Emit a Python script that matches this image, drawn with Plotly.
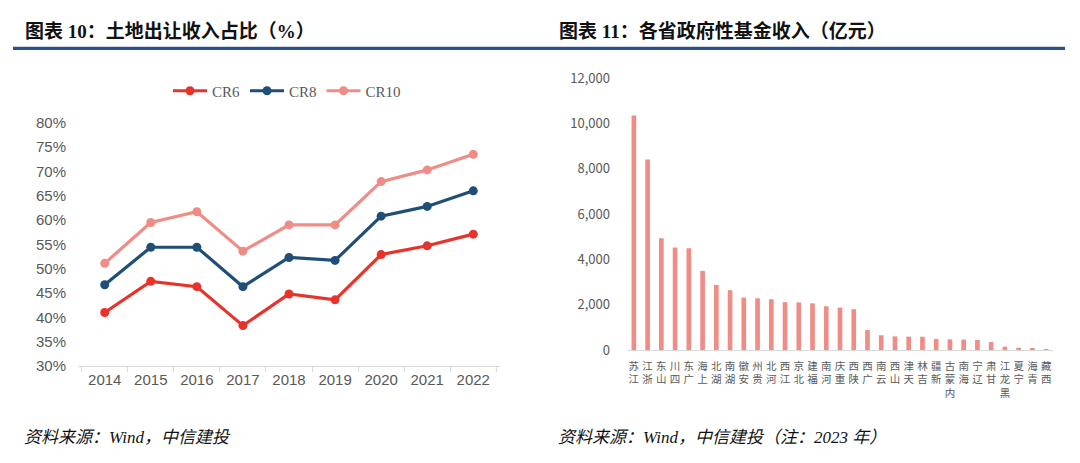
import plotly.graph_objects as go

W, H = 1080, 463

# ---- Left chart data ----
years = ["2014", "2015", "2016", "2017", "2018", "2019", "2020", "2021", "2022"]
cr6 = [41.0, 47.4, 46.3, 38.3, 44.8, 43.6, 52.9, 54.7, 57.1]
cr8 = [46.7, 54.4, 54.4, 46.3, 52.3, 51.7, 60.8, 62.8, 66.0]
cr10 = [51.1, 59.5, 61.7, 53.6, 59.0, 59.0, 67.9, 70.3, 73.5]
left_yticks = [30, 35, 40, 45, 50, 55, 60, 65, 70, 75, 80]

# ---- Right chart data ----
provinces = ["江苏", "浙江", "山东", "四川", "广东", "上海", "湖北", "湖南", "安徽", "贵州",
             "河北", "江西", "北京", "福建", "河南", "重庆", "陕西", "广西", "云南", "山西",
             "天津", "吉林", "新疆", "内蒙古", "海南", "辽宁", "甘肃", "黑龙江", "宁夏", "青海", "西藏"]
revenue = [10350, 8400, 4930, 4520, 4490, 3490, 2870, 2640, 2310, 2280,
           2240, 2110, 2100, 2060, 1930, 1870, 1800, 880, 650, 600,
           590, 585, 490, 470, 460, 440, 350, 150, 100, 70, 40]
right_yticks = [0, 2000, 4000, 6000, 8000, 10000, 12000]

C_RED = "#E8332B"
C_BLUE = "#1F4E79"
C_PINK = "#F08C86"
GRAY = "#595959"
AXIS_GRAY = "#D9D9D9"
TITLE_BLUE = "#2B5189"


def px_x(x):
    return x / W


def px_y(y):
    return 1 - y / H


fig = go.Figure()

for name, vals, col in [("CR6", cr6, C_RED), ("CR8", cr8, C_BLUE), ("CR10", cr10, C_PINK)]:
    fig.add_trace(go.Scatter(
        x=years, y=vals, name=name, mode="lines+markers",
        line=dict(color=col, width=3.2),
        marker=dict(color=col, size=9),
        xaxis="x", yaxis="y",
    ))

# vertical stacked labels (read bottom-to-top as in the reference)
tick_text = ["<br>".join(list(p)[::-1]) for p in provinces]

fig.add_trace(go.Bar(
    x=provinces, y=revenue, marker=dict(color=C_PINK, line=dict(width=0)),
    showlegend=False, xaxis="x2", yaxis="y2",
))

fig.update_layout(
    width=W, height=H,
    margin=dict(l=0, r=0, t=0, b=0, autoexpand=False),
    paper_bgcolor="white", plot_bgcolor="white",
    bargap=0.66,
    font=dict(family="Liberation Sans, Arial, sans-serif", color=GRAY),
    legend=dict(
        orientation="h", x=px_x(168), y=px_y(91), xanchor="left", yanchor="middle",
        font=dict(family="Liberation Serif, serif", size=15, color=GRAY),
        bgcolor="rgba(0,0,0,0)", itemwidth=34, tracegroupgap=0,
    ),
    xaxis=dict(
        domain=[px_x(78), px_x(500)],
        type="category", showline=True, linecolor=AXIS_GRAY, linewidth=1.3,
        ticks="outside", tickson="boundaries", ticklen=5, tickcolor=AXIS_GRAY,
        showgrid=False, tickfont=dict(size=15, color=GRAY),
        anchor="y", automargin=False,
    ),
    yaxis=dict(
        domain=[px_y(366), px_y(122.7)],
        range=[30, 80], tickvals=left_yticks,
        ticktext=[f"{v}%" for v in left_yticks],
        showgrid=False, showline=False, zeroline=False,
        tickfont=dict(size=15, color=GRAY), ticklabelstandoff=11,
        anchor="x", automargin=False,
    ),
    xaxis2=dict(
        domain=[px_x(627), px_x(1053)],
        type="category", showline=True, linecolor=AXIS_GRAY, linewidth=1.3,
        ticks="", showgrid=False,
        tickvals=provinces, ticktext=tick_text, tickangle=0,
        tickfont=dict(family="Noto Sans CJK SC", size=10.5, color=GRAY),
        ticklabelstandoff=6,
        anchor="y2", automargin=False,
    ),
    yaxis2=dict(
        domain=[px_y(350), px_y(78)],
        range=[0, 12000], tickvals=right_yticks,
        ticktext=[f"{v:,}" for v in right_yticks],
        showgrid=False, showline=False, zeroline=False,
        tickfont=dict(family="Noto Sans CJK SC", size=13, color=GRAY),
        ticklabelstandoff=16,
        anchor="x2", automargin=False,
    ),
)

# header rule
fig.add_shape(type="line", xref="paper", yref="paper",
              x0=px_x(13), x1=px_x(1065), y0=px_y(48.3), y1=px_y(48.3),
              line=dict(color=TITLE_BLUE, width=3.2))

title_font = dict(family="Liberation Serif, Noto Sans CJK SC", size=19, color="#111111")
fig.add_annotation(text="<b>图表 10：土地出让收入占比（%）</b>", xref="paper", yref="paper",
                   x=px_x(23), y=px_y(31), xanchor="left", yanchor="middle",
                   showarrow=False, font=title_font)
fig.add_annotation(text="<b>图表 11：各省政府性基金收入（亿元）</b>", xref="paper", yref="paper",
                   x=px_x(557), y=px_y(31), xanchor="left", yanchor="middle",
                   showarrow=False, font=title_font)

foot_font = dict(family="Liberation Serif, Noto Sans CJK SC", size=17, color="#111111")
fig.add_annotation(text="<i>资料来源：Wind，中信建投</i>", xref="paper", yref="paper",
                   x=px_x(22), y=px_y(437), xanchor="left", yanchor="middle",
                   showarrow=False, font=foot_font)
fig.add_annotation(text="<i>资料来源：Wind，中信建投（注：2023 年）</i>", xref="paper", yref="paper",
                   x=px_x(556), y=px_y(437), xanchor="left", yanchor="middle",
                   showarrow=False, font=foot_font)

fig.write_html(
    "out.html",
    config={"displayModeBar": False},
    post_script=(
        "document.documentElement.style.margin='0';"
        "document.body.style.margin='0';document.body.style.padding='0';"
        "document.documentElement.style.overflow='hidden';"
        "var d=document.getElementById('{plot_id}');"
        "d.style.position='fixed';d.style.top='0px';d.style.left='0px';"
    ),
)
